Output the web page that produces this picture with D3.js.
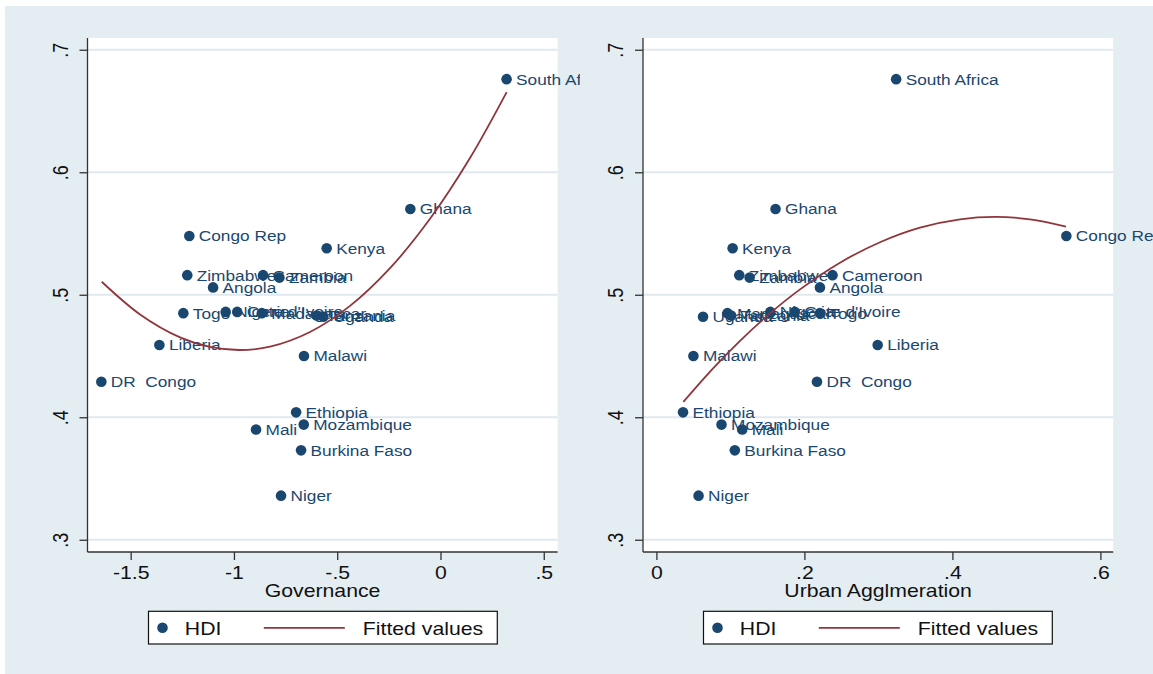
<!DOCTYPE html>
<html>
<head>
<meta charset="utf-8">
<script src="https://cdn.jsdelivr.net/npm/d3@7"></script>
<style>
  html, body { margin: 0; padding: 0; background: #ffffff; }
  svg { display: block; }
  text { font-family: "Liberation Sans", Arial, Helvetica, sans-serif; }
</style>
</head>
<body>
<svg id="chart" width="1153" height="674"></svg>
<script>
// Country observations
const countries = ["South Africa", "Ghana", "Congo Rep", "Kenya", "Zimbabwe", "Cameroon", "Zambia",
  "Angola", "Togo", "Nigeria", "Cote d'Ivoire", "Madagascar", "Tanzania", "Uganda", "Liberia",
  "Malawi", "DR  Congo", "Ethiopia", "Mozambique", "Mali", "Burkina Faso", "Niger"];
const hdi = [0.676, 0.570, 0.548, 0.538, 0.516, 0.516, 0.514,
  0.506, 0.485, 0.486, 0.486, 0.485, 0.483, 0.482, 0.459,
  0.450, 0.429, 0.404, 0.394, 0.390, 0.373, 0.336];
const governance = [0.320, -0.146, -1.216, -0.551, -1.226, -0.859, -0.780,
  -1.101, -1.245, -1.040, -0.984, -0.865, -0.599, -0.567, -1.361,
  -0.661, -1.642, -0.699, -0.662, -0.893, -0.675, -0.772];
const urban = [0.324, 0.161, 0.554, 0.103, 0.112, 0.238, 0.126,
  0.221, 0.221, 0.154, 0.187, 0.096, 0.101, 0.063, 0.299,
  0.050, 0.217, 0.036, 0.088, 0.116, 0.106, 0.057];

// Quadratic fitted values (HDI on each regressor)
const fitGovX = [-1.640, -1.4545, -1.2609, -1.1157, -0.9739, -0.8253, -0.6317, -0.4380, -0.2444, -0.0508, 0.1428, 0.3204];
const fitGovY = [0.5106, 0.4839, 0.4652, 0.4574, 0.4549, 0.4576, 0.4696, 0.4909, 0.5217, 0.5620, 0.6116, 0.6654];
const fitUrbX = [0.0364, 0.0766, 0.1130, 0.1535, 0.1941, 0.2481, 0.3022, 0.3562, 0.4103, 0.4576, 0.5049, 0.5535];
const fitUrbY = [0.4125, 0.4399, 0.4624, 0.4848, 0.5044, 0.5262, 0.5429, 0.5548, 0.5616, 0.5635, 0.5616, 0.5557];

// Axis ticks
const yTicks = [0.3, 0.4, 0.5, 0.6, 0.7];
const yTickLabels = [".3", ".4", ".5", ".6", ".7"];
const govTicks = [-1.5, -1, -0.5, 0, 0.5];
const govTickLabels = ["-1.5", "-1", "-.5", "0", ".5"];
const urbTicks = [0, 0.2, 0.4, 0.6];
const urbTickLabels = ["0", ".2", ".4", ".6"];

const NAVY = "#1a476f";
const MAROON = "#90353b";
const BG = "#e4edf1";
const GRID = "#e0e9ee";
const SX = 1.18;   // horizontal stretch of the exported text

const svg = d3.select("#chart");
svg.append("rect").attr("x", 5).attr("y", 6).attr("width", 1148).attr("height", 668).attr("fill", BG);

const defs = svg.append("defs");

function panel(opts) {
  const { left, right, top, bottom, xDomain, xVals, xTicks, xTickLabels, title,
          fitX, fitY, clipX0, clipX1, id, legendX } = opts;
  const x = d3.scaleLinear().domain(xDomain).range([left, right]);
  const y = d3.scaleLinear().domain([0.290, 0.7096]).range([bottom, top]);

  defs.append("clipPath").attr("id", "clip-" + id)
    .append("rect").attr("x", clipX0).attr("y", 0).attr("width", clipX1 - clipX0).attr("height", 674);

  const g = svg.append("g");
  // plot region
  g.append("rect").attr("x", left).attr("y", top).attr("width", right - left).attr("height", bottom - top)
    .attr("fill", "#ffffff");
  // gridlines
  g.append("g").selectAll("line").data(yTicks).join("line")
    .attr("x1", left).attr("x2", right)
    .attr("y1", d => y(d)).attr("y2", d => y(d))
    .attr("stroke", GRID).attr("stroke-width", 2);

  // y axis
  const yAxis = d3.axisLeft(y).tickValues(yTicks).tickSize(8).tickSizeOuter(0)
    .tickFormat((d, i) => yTickLabels[i]);
  const ya = g.append("g").attr("transform", `translate(${left},0)`).call(yAxis);
  ya.select(".domain").attr("stroke", "#333").attr("stroke-width", 1.3)
    .attr("d", `M0,${top}V${bottom}`);
  ya.selectAll(".tick line").attr("stroke", "#333").attr("stroke-width", 1.3);
  ya.selectAll(".tick text")
    .attr("x", 0).attr("y", 0).attr("dy", null)
    .attr("text-anchor", "middle")
    .attr("transform", `translate(-20,0) rotate(-90) scale(1,${SX})`)
    .attr("font-size", 18).attr("fill", "#111")
    .style("font-family", "Liberation Sans, Arial, sans-serif");

  // x axis
  const xAxis = d3.axisBottom(x).tickValues(xTicks).tickSize(8).tickSizeOuter(0)
    .tickFormat((d, i) => xTickLabels[i]);
  const xa = g.append("g").attr("transform", `translate(0,${bottom})`).call(xAxis);
  xa.select(".domain").attr("stroke", "#333").attr("stroke-width", 1.3)
    .attr("d", `M${left},0H${right}`);
  xa.selectAll(".tick line").attr("stroke", "#333").attr("stroke-width", 1.3);
  xa.selectAll(".tick text")
    .attr("x", 0).attr("y", 0).attr("dy", null)
    .attr("transform", `translate(0,27) scale(${SX},1)`)
    .attr("font-size", 18).attr("fill", "#111")
    .style("font-family", "Liberation Sans, Arial, sans-serif");

  // axis title
  g.append("text").attr("transform", `translate(${(left + right) / 2},${bottom + 45}) scale(${SX},1)`)
    .attr("text-anchor", "middle").attr("font-size", 18).attr("fill", "#111").text(title);

  // observations
  const pts = countries.map((c, i) => ({ name: c, xv: xVals[i], yv: hdi[i] }));
  const clipped = g.append("g").attr("clip-path", `url(#clip-${id})`);
  clipped.append("g").selectAll("text").data(pts).join("text")
    .attr("transform", d => `translate(${x(d.xv) + 9.5},${y(d.yv)}) scale(1.15,1)`)
    .attr("dy", "0.36em")
    .attr("font-size", 15).attr("fill", NAVY)
    .style("white-space", "pre").attr("xml:space", "preserve")
    .text(d => d.name);
  clipped.append("g").selectAll("circle").data(pts).join("circle")
    .attr("cx", d => x(d.xv)).attr("cy", d => y(d.yv)).attr("r", 5.3).attr("fill", NAVY);

  // fitted values
  const fit = fitX.map((v, i) => [v, fitY[i]]);
  g.append("path").datum(fit)
    .attr("d", d3.line().x(d => x(d[0])).y(d => y(d[1])).curve(d3.curveCatmullRom))
    .attr("fill", "none").attr("stroke", MAROON).attr("stroke-width", 1.8);

  // legend
  const ly = 611.3, lw = 348.8, lh = 32.7;
  const lg = svg.append("g").attr("transform", `translate(${legendX},${ly})`);
  lg.append("rect").attr("width", lw).attr("height", lh).attr("fill", "#ffffff")
    .attr("stroke", "#111").attr("stroke-width", 1.2);
  lg.append("circle").attr("cx", 14).attr("cy", 16.5).attr("r", 5.3).attr("fill", NAVY);
  lg.append("text").attr("transform", `translate(36.3,23.4) scale(${SX},1)`)
    .attr("font-size", 18).attr("fill", "#111").text("HDI");
  lg.append("line").attr("x1", 115.3).attr("x2", 196.3).attr("y1", 16.5).attr("y2", 16.5)
    .attr("stroke", MAROON).attr("stroke-width", 1.8);
  lg.append("text").attr("transform", `translate(214.3,23.4) scale(${SX},1)`)
    .attr("font-size", 18).attr("fill", "#111").text("Fitted values");
}

panel({
  id: "gov", left: 87.5, right: 557.6, top: 38, bottom: 552,
  xDomain: [-1.709, 0.567], xVals: governance, xTicks: govTicks, xTickLabels: govTickLabels,
  title: "Governance", fitX: fitGovX, fitY: fitGovY, clipX0: 5, clipX1: 580, legendX: 148.5
});
panel({
  id: "urb", left: 643, right: 1113.2, top: 38, bottom: 552,
  xDomain: [-0.0181, 0.6173], xVals: urban, xTicks: urbTicks, xTickLabels: urbTickLabels,
  title: "Urban Agglmeration", fitX: fitUrbX, fitY: fitUrbY, clipX0: 580, clipX1: 1153, legendX: 703.5
});
</script>
</body>
</html>
